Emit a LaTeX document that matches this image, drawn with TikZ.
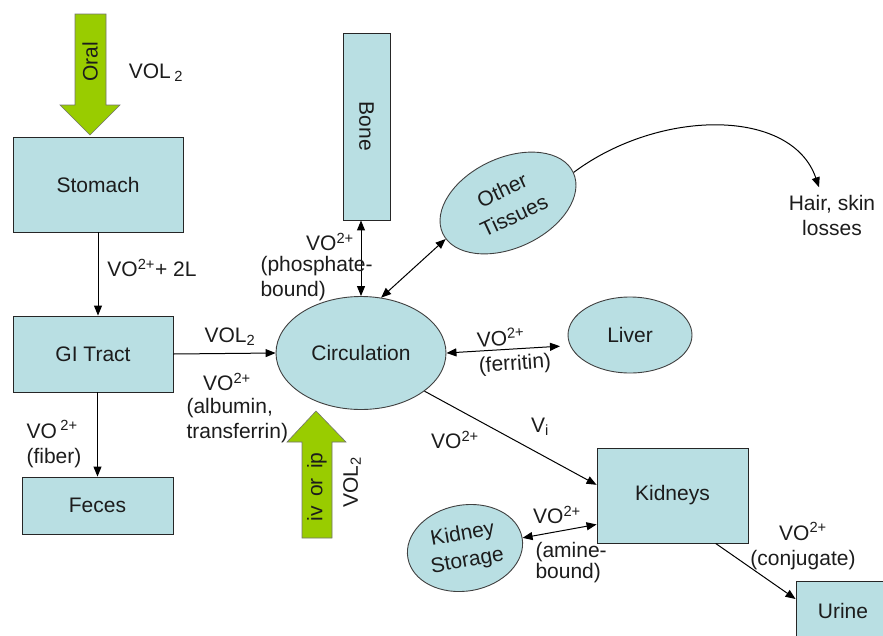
\documentclass[tikz,border=0pt]{standalone}
\usepackage{fontspec}
\setmainfont{Liberation Sans}
\usetikzlibrary{arrows.meta,shapes.geometric}
\definecolor{Organ}{HTML}{B9DFE3}
\definecolor{Route}{HTML}{99CC00}
\definecolor{Ink}{HTML}{1C1C1C}

\begin{document}
\begin{tikzpicture}[x=1pt,y=-1pt,
        every node/.style={font=\fontsize{21}{25}\selectfont,text=Ink},
        organ/.style={rectangle,draw=black!85,fill=Organ,line width=0.9pt},
        pool/.style={ellipse,draw=black!75,fill=Organ,line width=0.9pt,inner sep=0pt,align=center},
        route/.style={draw=black!55,fill=Route,line width=0.6pt},
        arr/.style={-{Triangle[length=10pt,width=8pt]},line width=1pt},
        dbl/.style={{Triangle[length=10pt,width=8pt]}-{Triangle[length=10pt,width=8pt]},line width=1pt}]
        \clip (0,0) rectangle (883,635);
        % dosing routes
        \filldraw[route] (75,14) -- (106,14) -- (106,105) -- (120,105) -- (90,135) -- (60,105) -- (75,105) -- cycle;
        \node[rotate=90] (oral) at (90,62) {Oral};
        \node (oralvol) at (156,73) {VOL\,\textsubscript{2}};
        \filldraw[route] (302,538) -- (302,442) -- (287,442) -- (316,411) -- (346,442) -- (332,442) -- (332,538) -- cycle;
        \node[rotate=90] (ivip) at (317,487) {iv\, or\, ip};
        \node[rotate=90] (ivvol) at (352,482) {VOL\textsubscript{2}};
        % compartments
        \node[organ,minimum width=170,minimum height=95] (stom) at (98,184.5) {Stomach};
        \node[organ,minimum width=160,minimum height=76] (gi) at (93,354) {GI Tract};
        \node[organ,minimum width=151,minimum height=57] (feces) at (97.5,505.5) {Feces};
        \node[organ,minimum width=47,minimum height=187] (bone) at (366.5,126.5) {};
        \node[rotate=-90] (bonetxt) at (bone) {Bone};
        \node[organ,minimum width=151,minimum height=95] (kid) at (672.5,495.5) {Kidneys};
        \node[organ,minimum width=94,minimum height=60] (urine) at (843,611) {Urine};
        \node[pool,minimum width=170,minimum height=113] (circ) at (361,353) {Circulation};
        \node[pool,rotate=25,minimum width=144,minimum height=90] (ot) at (508,203) {Other\\[3pt]Tissues};
        \node[pool,minimum width=124,minimum height=76] (liver) at (630,335) {Liver};
        \node[pool,rotate=10,minimum width=116,minimum height=86] (ks) at (465,548) {Kidney\\[2pt]Storage};
        \node[align=center] (hair) at (832,215) {Hair, skin\\losses};
        % transfers
        \draw[arr] (stom.south) -- (stom.south |- gi.north);
        \node (stomlbl) at (152,268) {VO\textsuperscript{2+}+ 2L};
        \draw[arr] (feces.north |- gi.south) -- (feces.north);
        \node[anchor=west,align=left] (fiber) at (23,444) {VO\,\textsuperscript{2+}\\(fiber)};
        \draw[arr] (gi.east) -- (circ.west);
        \node (gilbl) at (230,337) {VOL\textsubscript{2}};
        \node (albvo) at (227,382) {VO\textsuperscript{2+}};
        \node[anchor=west,align=left] (alb) at (183,421) {(albumin,\\transferrin)};
        \draw[dbl] (circ.north |- bone.south) -- (circ.north);
        \node (bonevo) at (330,242) {VO\textsuperscript{2+}};
        \node[anchor=west,align=left] (phos) at (257,279) {(phosphate-\\bound)};
        \draw[dbl] (circ.70) -- (ot.185);
        \draw[arr] (ot.east) .. controls (660,108) and (792,108) .. ([shift={(-13,-4)}]hair.north);
        \draw[dbl,shorten >=10pt] (circ.east) -- (liver.190);
        \node[rotate=4,align=left] (ferr) at (514,351) {VO\textsuperscript{2+}\\(ferritin)};
        \draw[arr] (circ.-31) -- (kid.172);
        \node (vi) at (540,427) {V\textsubscript{i}};
        \node (kidvo) at (455,440) {VO\textsuperscript{2+}};
        \draw[dbl] (ks.east) -- ([yshift=19pt]kid.south west);
        \node (amvo) at (557,515) {VO\textsuperscript{2+}};
        \node[anchor=west,align=left] (amine) at (532,563) {(amine-\\[-4pt]bound)};
        \draw[arr] (kid.-48) -- ([yshift=12pt]urine.west);
        \node[align=center] (conj) at (803,546) {VO\textsuperscript{2+}\\(conjugate)};
      \end{tikzpicture}
\end{document}
